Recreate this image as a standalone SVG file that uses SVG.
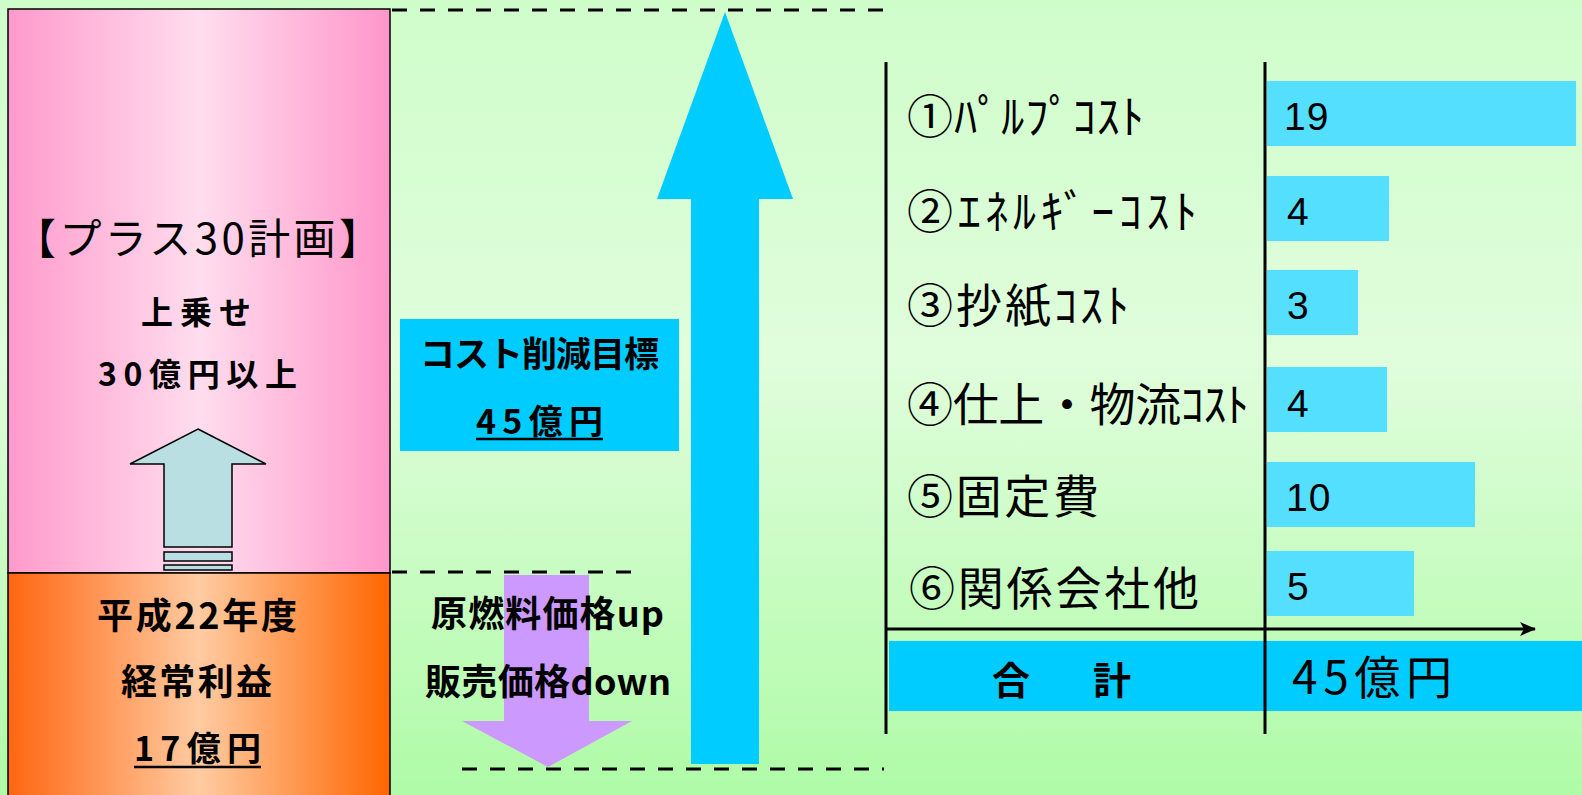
<svg xmlns="http://www.w3.org/2000/svg" width="1582" height="795" viewBox="0 0 1582 795">
<defs>
<linearGradient id="bg" x1="0" y1="0" x2="0" y2="1">
<stop offset="0" stop-color="#CFFDCA"/>
<stop offset="0.45" stop-color="#E0FDDC"/>
<stop offset="1" stop-color="#AFFBA7"/>
</linearGradient>
<linearGradient id="pink" x1="0" y1="0" x2="1" y2="0">
<stop offset="0" stop-color="#FF9ACC"/>
<stop offset="0.5" stop-color="#FFDDEE"/>
<stop offset="1" stop-color="#FF96CA"/>
</linearGradient>
<linearGradient id="orange" x1="0" y1="0" x2="1" y2="0">
<stop offset="0" stop-color="#FF6611"/>
<stop offset="0.5" stop-color="#FFCBA2"/>
<stop offset="1" stop-color="#FF6600"/>
</linearGradient>
<marker id="arr" markerUnits="userSpaceOnUse" markerWidth="18" markerHeight="16" refX="15" refY="7" orient="auto">
<path d="M0,0 L16,7 L0,14 L4,7 z" fill="#000"/>
</marker>
<style>
.t{font-family:"Noto Sans CJK JP","Noto Sans CJK SC",sans-serif;fill:#000}
.n{font-family:"Liberation Sans",Arial,sans-serif;fill:#000;font-size:39px}
.b{font-weight:bold}
.dash{stroke:#000;stroke-width:3;stroke-dasharray:15 13;fill:none}
.ln{stroke:#000;stroke-width:3;fill:none}
.bar{fill:#55DFFF}
.cyan{fill:#00CCFF}
</style>
</defs>
<rect x="0" y="0" width="1582" height="795" fill="url(#bg)"/>

<g id="plan-box">
<rect x="8" y="9" width="382" height="564" fill="url(#pink)" stroke="#000" stroke-width="1.5"/>
<text class="t" x="14" y="254" font-size="42" textLength="367">【プラス30計画】</text>
<text class="t b" x="141" y="324" font-size="32" textLength="110">上乗せ</text>
<text class="t b" x="98" y="386" font-size="32" textLength="199">30億円以上</text>
</g>

<g id="small-arrow">
<polygon points="198,429 266,464 232,464 232,547 164,547 164,464 130,464" fill="#B9DFE2" stroke="#000" stroke-width="1.5"/>
<rect x="164" y="552" width="68" height="9" fill="#B9DFE2" stroke="#000" stroke-width="1.5"/>
<rect x="164" y="565" width="68" height="5" fill="#B9DFE2" stroke="#000" stroke-width="1.5"/>
</g>

<g id="profit-box">
<rect x="8" y="573" width="382" height="226" fill="url(#orange)" stroke="#000" stroke-width="1.5"/>
<text class="t b" x="97" y="629" font-size="36" textLength="200">平成22年度</text>
<text class="t b" x="121" y="695" font-size="36" textLength="151">経常利益</text>
<text class="t b" x="134" y="761" font-size="34" textLength="127">17億円</text>
<line x1="134" y1="767" x2="261" y2="767" stroke="#000" stroke-width="2.5"/>
</g>

<g id="target-box">
<rect class="cyan" x="400" y="319" width="279" height="132"/>
<text class="t b" x="420" y="367" font-size="35" textLength="239">コスト削減目標</text>
<text class="t b" x="476" y="434" font-size="34" textLength="127">45億円</text>
<line x1="476" y1="439" x2="603" y2="439" stroke="#000" stroke-width="2.5"/>
</g>

<g id="big-arrow">
<polygon class="cyan" points="725,12 793,199 759,199 759,764 691,764 691,199 657,199"/>
</g>

<g id="down-arrow">
<polygon fill="#CC99FF" points="504,575 589,575 589,721 632,721 548,767 462,721 504,721"/>
</g>

<g id="bars">
<rect class="bar" x="1267" y="81" width="309" height="65"/>
<rect class="bar" x="1267" y="176" width="122" height="65"/>
<rect class="bar" x="1267" y="270" width="91" height="65"/>
<rect class="bar" x="1267" y="367" width="120" height="65"/>
<rect class="bar" x="1267" y="462" width="208" height="65"/>
<rect class="bar" x="1267" y="551" width="147" height="65"/>
<rect class="cyan" x="889" y="641" width="693" height="70"/>
</g>

<g id="connectors">
<line class="dash" x1="392" y1="10" x2="884" y2="10"/>
<line class="dash" x1="392" y1="572" x2="632" y2="572"/>
<line class="dash" x1="462" y1="769" x2="884" y2="769"/>
<line class="ln" x1="886" y1="62" x2="886" y2="734"/>
<line class="ln" x1="1265" y1="62" x2="1265" y2="734"/>
<line class="ln" x1="886" y1="629" x2="1535" y2="629" marker-end="url(#arr)"/>
</g>

<g id="middle-labels">
<text class="t b" x="431" y="627" font-size="36" textLength="233">原燃料価格up</text>
<text class="t b" x="425" y="695" font-size="36" textLength="246">販売価格down</text>
</g>

<g id="labels">
<text class="t" x="907" y="133" font-size="46" textLength="237">①ﾊﾟﾙﾌﾟｺｽﾄ</text>
<text class="t" x="907" y="228" font-size="46" textLength="290">②ｴﾈﾙｷﾞｰｺｽﾄ</text>
<text class="t" x="907" y="322" font-size="46" textLength="222">③抄紙ｺｽﾄ</text>
<text class="t" x="907" y="421" font-size="46" textLength="342">④仕上・物流ｺｽﾄ</text>
<text class="t" x="907" y="513" font-size="46" textLength="192">⑤固定費</text>
<text class="t" x="909" y="605" font-size="46" textLength="290">⑥関係会社他</text>
</g>

<g id="values">
<text class="n" x="1284" y="130" letter-spacing="1">19</text>
<text class="n" x="1287" y="225">4</text>
<text class="n" x="1287" y="319">3</text>
<text class="n" x="1287" y="417">4</text>
<text class="n" x="1286" y="511" letter-spacing="1">10</text>
<text class="n" x="1287" y="600">5</text>
</g>

<g id="total">
<text class="t b" x="992 1042 1093" y="694" font-size="38">合　計</text>
<text class="t" x="1292" y="694" font-size="46" textLength="160">45億円</text>
</g>
</svg>
